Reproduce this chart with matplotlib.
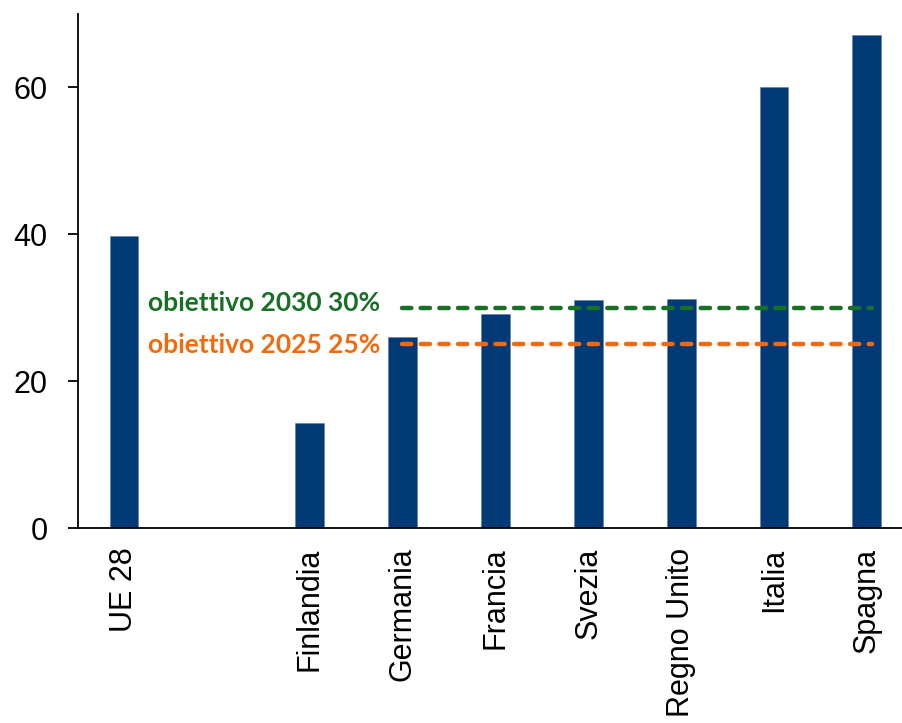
import numpy as np
import matplotlib
matplotlib.use("Agg")
import matplotlib.pyplot as plt

# quota per paese (%), con uno spazio vuoto dopo la media UE
paesi = ["UE 28", "", "Finlandia", "Germania", "Francia", "Svezia",
         "Regno Unito", "Italia", "Spagna"]
valori = [39.7, np.nan, 14.3, 26.0, 29.1, 31.0, 31.2, 60.0, 67.2]

obiettivi = [30, 25]
etichette_obiettivi = ["obiettivo 2030 30%", "obiettivo 2025 25%"]
colori_obiettivi = ["#187025", "#F26A0C"]

plt.rcParams["font.family"] = ["Liberation Sans", "DejaVu Sans"]

fig = plt.figure(figsize=(9.03, 7.23), dpi=100)
ax = fig.add_axes([0.086, 0.2697, 0.914, 0.711])

x = np.arange(len(paesi))
ax.bar(x, valori, width=0.31, color="#023A78", edgecolor="#5D7FAA",
       linewidth=0.4, zorder=2)

# linee tratteggiate degli obiettivi con relative etichette
for y, lab, col in zip(obiettivi, etichette_obiettivi, colori_obiettivi):
    ax.plot([2.99, 8.06], [y, y], color=col, linewidth=3.2,
            linestyle=(0, (2.1, 2.1)), dash_capstyle="round", zorder=3)
    ax.text(2.76, y + (0.6 if y == 30 else -0.1), lab, color=col,
            ha="right", va="center", fontsize=19, fontweight="bold",
            family=["Lato", "DejaVu Sans"])

ax.set_xlim(-0.5, 8.39)
ax.set_ylim(0, 70)
ax.set_yticks([0, 20, 40, 60])
ax.set_xticks(x)
ax.set_xticklabels(paesi, rotation=90, fontsize=22)
ax.tick_params(axis="y", labelsize=22, length=7.5, width=1.3, pad=14)
ax.tick_params(axis="x", length=0, pad=14)

for s in ["top", "right"]:
    ax.spines[s].set_visible(False)
for s in ["left", "bottom"]:
    ax.spines[s].set_linewidth(1.3)

fig.savefig("out.png", dpi=100)
